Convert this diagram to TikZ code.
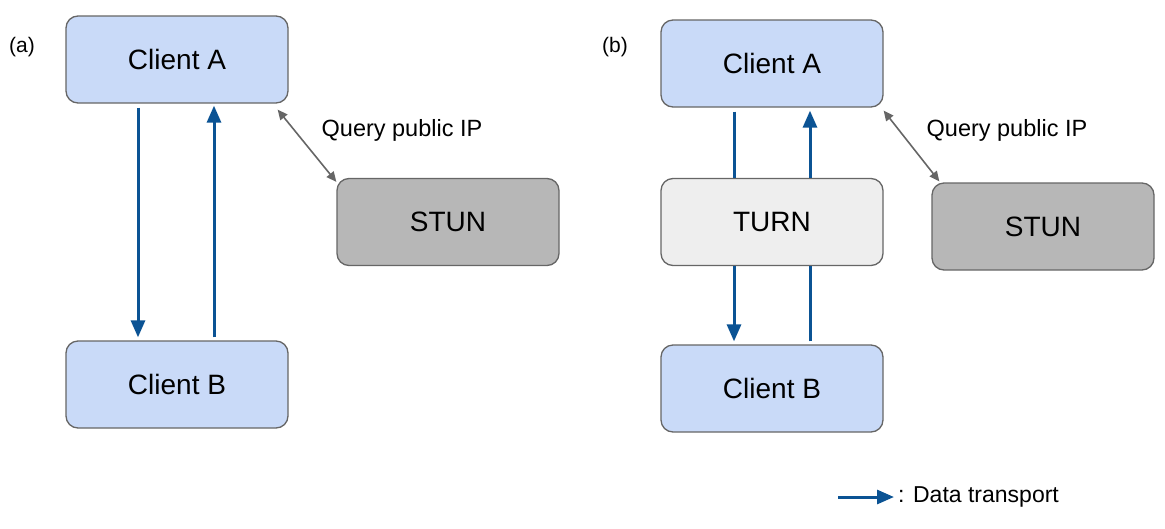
\documentclass[tikz,border=0pt]{standalone}
\usepackage{fontspec}
\setmainfont{Liberation Sans}
\usetikzlibrary{arrows.meta}
\definecolor{clientblue}{HTML}{C9DAF8}
\definecolor{stungray}{HTML}{B7B7B7}
\definecolor{turngray}{HTML}{EEEEEE}
\definecolor{boxline}{HTML}{666666}
\definecolor{datablue}{HTML}{0B5394}
\definecolor{querygray}{HTML}{666666}
\newcommand{\fs}[1]{\fontsize{#1}{#1}\selectfont}

\begin{document}
\begin{tikzpicture}[x=1pt,y=-1pt,
    box/.style={draw=boxline, line width=1.3pt, rounded corners=12pt,
        minimum width=222pt, minimum height=87pt, inner sep=0pt, font=\fs{28}},
    client/.style={box, fill=clientblue},
    stunbox/.style={box, fill=stungray},
    turnbox/.style={box, fill=turngray},
    dataline/.style={draw=datablue, line width=3pt},
    data/.style={dataline, -{Triangle[length=17pt,width=14pt]}},
    query/.style={draw=querygray, line width=1.6pt,
        {Triangle[length=10pt,width=9pt]}-{Triangle[length=10pt,width=9pt]}},
    lbl/.style={inner sep=0pt, font=\fs{23.5}}]
    \useasboundingbox (0,0) rectangle (1165,528);

    % (a) direct
    \node[lbl, font=\fs{21}] (taga) at (22,47) {(a)};
    \node[client] (caa) at (177,59.5) {Client A};
    \node[client] (cba) at (177,384.5) {Client B};
    \node[stunbox] (stuna) at (448,222) {STUN};
    \node[lbl] (qa) at (402,130) {Query public IP};
    \draw[data, shorten <=4pt, shorten >=3pt] ([xshift=-39pt]caa.south) -- ([xshift=-39pt]cba.north);
    \draw[data, shorten <=3pt, shorten >=2pt] ([xshift=37pt]cba.north) -- ([xshift=37pt]caa.south);
    \draw[query] ([xshift=-11pt,yshift=-6pt]caa.south east) -- ([yshift=-4pt]stuna.north west);

    % (b) relayed
    \node[lbl, font=\fs{21}] (tagb) at (615,47) {(b)};
    \node[client] (cab) at (772,63.5) {Client A};
    \node[turnbox] (turn) at (772,222) {TURN};
    \node[client] (cbb) at (772,388.5) {Client B};
    \node[stunbox] (stunb) at (1043,226.5) {STUN};
    \node[lbl] (qb) at (1007,130) {Query public IP};
    \draw[dataline, shorten <=4pt] ([xshift=-38pt]cab.south) -- ([xshift=-38pt]turn.north);
    \draw[data, shorten >=3pt] ([xshift=-38pt]turn.south) -- ([xshift=-38pt]cbb.north);
    \draw[data, shorten >=3pt] ([xshift=38pt]turn.north) -- ([xshift=38pt]cab.south);
    \draw[dataline, shorten <=3pt] ([xshift=38pt]cbb.north) -- ([xshift=38pt]turn.south);
    \draw[query] ([yshift=-3pt]cab.south east) -- ([xshift=8pt,yshift=1pt]stunb.north west);

    % legend
    \coordinate (legs) at (838,497);
    \node[lbl, font=\fs{23}, anchor=west, inner sep=4pt] (legt) at (894,497) {: Data transport};
    \draw[data] (legs) -- (legt.west);
\end{tikzpicture}
\end{document}
